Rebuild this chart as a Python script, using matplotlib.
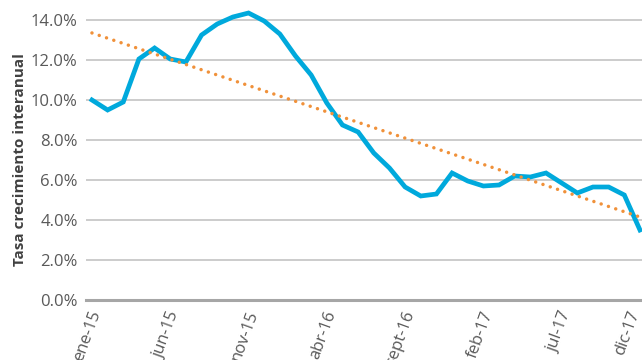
import numpy as np
import matplotlib
matplotlib.use("Agg")
import matplotlib.pyplot as plt
import matplotlib.transforms as mtransforms

plt.rcParams['font.family'] = ['Open Sans', 'DejaVu Sans']

# monthly year-on-year growth, ene-15 .. dic-17 (in %)
months = ['ene-15', 'feb-15', 'mar-15', 'abr-15', 'may-15', 'jun-15',
          'jul-15', 'ago-15', 'sept-15', 'oct-15', 'nov-15', 'dic-15',
          'ene-16', 'feb-16', 'mar-16', 'abr-16', 'may-16', 'jun-16',
          'jul-16', 'ago-16', 'sept-16', 'oct-16', 'nov-16', 'dic-16',
          'ene-17', 'feb-17', 'mar-17', 'abr-17', 'may-17', 'jun-17',
          'jul-17', 'ago-17', 'sept-17', 'oct-17', 'nov-17', 'dic-17']
growth = [10.0, 9.5, 9.9, 12.05, 12.6, 12.05,
          11.9, 13.25, 13.8, 14.15, 14.35, 13.95,
          13.3, 12.2, 11.25, 9.85, 8.75, 8.4,
          7.35, 6.6, 5.65, 5.2, 5.3, 6.35,
          5.95, 5.7, 5.75, 6.2, 6.15, 6.35,
          5.85, 5.35, 5.65, 5.65, 5.25, 3.5]
tick_every = 5

x = np.arange(len(growth))
slope, icpt = np.polyfit(x, growth, 1)
trend = slope * x + icpt

fig = plt.figure(figsize=(6.42, 3.6), dpi=100)
ax = fig.add_axes([86 / 642, 60 / 360, 556 / 642, 300 / 360])

ax.plot(x, growth, color='#00A9DC', lw=3.4, solid_joinstyle='miter', zorder=3)
ax.plot(x, trend, color='#F0913A', lw=2.5, linestyle=(0, (0.01, 2.2)),
        dash_capstyle='round', zorder=4)

ax.set_xlim(-0.38, 35.13)
ax.set_ylim(0, 15.0)
ax.set_yticks(np.arange(0, 15, 2))
ax.set_yticklabels([f'{v:.1f}%' for v in np.arange(0, 15, 2)])
ax.yaxis.grid(True, color='#BFBFBF', lw=1.1)
ax.set_axisbelow(True)

for s in ['top', 'right', 'left']:
    ax.spines[s].set_visible(False)
ax.spines['bottom'].set_color('#A6A6A6')
ax.spines['bottom'].set_linewidth(2.2)
ax.tick_params(axis='both', length=0, labelsize=12, labelcolor='#595959')
ax.tick_params(axis='y', pad=6)
ax.tick_params(axis='x', pad=8)

ax.set_xticks(x[::tick_every])
ax.set_xticklabels(months[::tick_every], rotation=70, ha='right',
                   va='center', rotation_mode='anchor')
# nudge the rotated labels a bit to the right, like the original
shift = mtransforms.ScaledTranslation(5 / 100, 0, fig.dpi_scale_trans)
labs = ax.get_xticklabels()
for lab in labs:
    lab.set_transform(lab.get_transform() + shift)
# last label sits pulled back inside the picture
labs[-1].set_transform(labs[-1].get_transform()
                       + mtransforms.ScaledTranslation(-10 / 100, 0, fig.dpi_scale_trans))

fig.text(20 / 642, 1 - 160 / 360, 'Tasa crecimiento interanual',
         rotation=90, ha='center', va='center', fontsize=11,
         fontweight='bold', color='#404040')

fig.savefig('out.png', dpi=100)
